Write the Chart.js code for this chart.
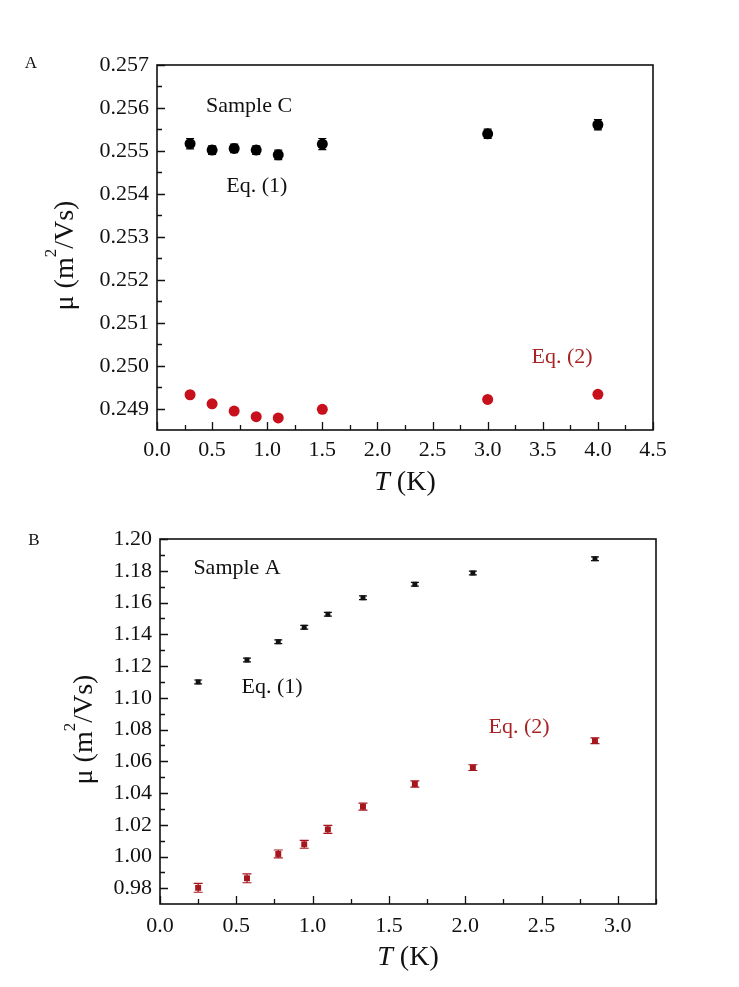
<!DOCTYPE html>
<html>
<head>
<meta charset="utf-8">
<script src="https://cdn.jsdelivr.net/npm/chart.js@4"></script>
<style>
  body { margin: 0; background: #fff; }
  .panel { position: absolute; left: 0; }
</style>
</head>
<body>
<div class="panel" style="top:0"><canvas id="chart-a" width="739" height="505"></canvas></div>
<div class="panel" style="top:505px"><canvas id="chart-b" width="739" height="482"></canvas></div>
<script>
// Panel A - Sample C
const tempA = [0.3, 0.5, 0.7, 0.9, 1.1, 1.5, 3.0, 4.0];
const muEq1A = [0.25517, 0.25502, 0.25506, 0.25502, 0.25491, 0.25516, 0.25540, 0.25561];
const errEq1A = [0.00012, 0.00010, 0.00010, 0.00010, 0.00011, 0.00013, 0.00011, 0.00012];
const muEq2A = [0.24933, 0.24912, 0.24895, 0.24882, 0.24879, 0.24899, 0.24922, 0.24934];
const errEq2A = [0.00004, 0.00004, 0.00004, 0.00004, 0.00004, 0.00004, 0.00004, 0.00004];
const xTicksA = [0, 0.5, 1.0, 1.5, 2.0, 2.5, 3.0, 3.5, 4.0, 4.5];
const yTicksA = [0.249, 0.250, 0.251, 0.252, 0.253, 0.254, 0.255, 0.256, 0.257];

// Panel B - Sample A
const tempB = [0.25, 0.57, 0.775, 0.945, 1.10, 1.33, 1.67, 2.05, 2.85];
const muEq1B = [1.1100, 1.1238, 1.1353, 1.1444, 1.1526, 1.1630, 1.1715, 1.1786, 1.1876];
const errEq1B = [0.0012, 0.0012, 0.0012, 0.0012, 0.0012, 0.0012, 0.0012, 0.0012, 0.0012];
const muEq2B = [0.9803, 0.9863, 1.0016, 1.0077, 1.0171, 1.0314, 1.0457, 1.0560, 1.0729];
const errEq2B = [0.0028, 0.0028, 0.0025, 0.0025, 0.0025, 0.0022, 0.0020, 0.0018, 0.0018];
const xTicksB = [0, 0.5, 1.0, 1.5, 2.0, 2.5, 3.0];
const yTicksB = [0.98, 1.00, 1.02, 1.04, 1.06, 1.08, 1.10, 1.12, 1.14, 1.16, 1.18, 1.20];

const SERIF = "'Liberation Serif', 'Times New Roman', serif";
const RED_A = '#c8101c';
const RED_B = '#a5161e';
const RED_TXT = '#a82424';

const pts = (xs, ys) => xs.map((x, i) => ({ x: x, y: ys[i] }));

// draws a row of text pieces, each {t, font, dy}
function drawRuns(ctx, runs, x, y, align) {
    let total = 0;
    runs.forEach(r => { ctx.font = r.font; total += ctx.measureText(r.t).width; });
    let cx = align === 'center' ? x - total / 2 : x;
    ctx.textAlign = 'left';
    ctx.textBaseline = 'middle';
    runs.forEach(r => {
        ctx.font = r.font;
        ctx.fillText(r.t, cx, y + (r.dy || 0));
        cx += ctx.measureText(r.t).width;
    });
}

const errorBars = {
    id: 'errorBars',
    beforeDatasetsDraw(chart) {
        const ctx = chart.ctx;
        const xs = chart.scales.x, ys = chart.scales.y;
        chart.data.datasets.forEach(ds => {
            if (!ds.errors) return;
            ctx.save();
            ctx.strokeStyle = ds.backgroundColor;
            ctx.lineWidth = 1.2;
            ds.data.forEach((p, i) => {
                const px = xs.getPixelForValue(p.x);
                const top = ys.getPixelForValue(p.y + ds.errors[i]);
                const bot = ys.getPixelForValue(p.y - ds.errors[i]);
                const w = ds.capWidth / 2;
                ctx.beginPath();
                ctx.moveTo(px, top); ctx.lineTo(px, bot);
                ctx.moveTo(px - w, top); ctx.lineTo(px + w, top);
                ctx.moveTo(px - w, bot); ctx.lineTo(px + w, bot);
                ctx.stroke();
            });
            ctx.restore();
        });
    }
};

const frame = {
    id: 'frame',
    afterDraw(chart, args, opts) {
        const ctx = chart.ctx;
        const a = chart.chartArea;
        const xs = chart.scales.x, ys = chart.scales.y;
        ctx.save();
        ctx.strokeStyle = '#111';
        ctx.lineWidth = 1.6;
        ctx.strokeRect(a.left, a.top, a.right - a.left, a.bottom - a.top);
        ctx.lineWidth = 1.3;
        ctx.beginPath();
        for (let v = xs.min; v <= xs.max + 1e-9; v += opts.xMinor) {
            const px = Math.round(xs.getPixelForValue(v)) + 0.5;
            const major = Math.abs(v / opts.xMajor - Math.round(v / opts.xMajor)) < 1e-6;
            ctx.moveTo(px, a.bottom);
            ctx.lineTo(px, a.bottom - (major ? 8 : 5));
        }
        const y0 = Math.ceil(ys.min / opts.yMinor - 1e-6) * opts.yMinor;
        for (let v = y0; v <= ys.max + 1e-9; v += opts.yMinor) {
            const py = Math.round(ys.getPixelForValue(v)) + 0.5;
            const major = Math.abs(v / opts.yMajor - Math.round(v / opts.yMajor)) < 1e-6;
            ctx.moveTo(a.left, py);
            ctx.lineTo(a.left + (major ? 8 : 5), py);
        }
        ctx.stroke();

        // annotations placed in data coordinates
        (opts.notes || []).forEach(n => {
            ctx.fillStyle = n.color;
            ctx.font = '22px ' + SERIF;
            ctx.textAlign = 'center';
            ctx.textBaseline = 'middle';
            ctx.fillText(n.text, xs.getPixelForValue(n.x), ys.getPixelForValue(n.y));
        });

        // axis titles
        ctx.fillStyle = '#111';
        drawRuns(ctx, [
            { t: 'T', font: 'italic 28px ' + SERIF },
            { t: ' (K)', font: '28px ' + SERIF }
        ], (a.left + a.right) / 2, a.bottom + opts.xTitleOffset, 'center');

        ctx.translate(opts.yTitleX, (a.top + a.bottom) / 2 + 8);
        ctx.rotate(-Math.PI / 2);
        drawRuns(ctx, [
            { t: '\u03bc (m', font: '28px ' + SERIF },
            { t: '2', font: '17px ' + SERIF, dy: -14 },
            { t: '/Vs)', font: '28px ' + SERIF }
        ], 0, 0, 'center');
        ctx.restore();

        // panel letter
        ctx.save();
        ctx.fillStyle = '#111';
        ctx.font = '17px ' + SERIF;
        ctx.textAlign = 'center';
        ctx.textBaseline = 'middle';
        ctx.fillText(opts.letter, opts.letterX, opts.letterY);
        ctx.restore();
    }
};

function makeChart(id, cfg) {
    return new Chart(document.getElementById(id).getContext('2d'), {
        type: 'scatter',
        data: { datasets: cfg.datasets },
        options: {
            responsive: false,
            animation: false,
            layout: { padding: cfg.padding },
            plugins: {
                legend: { display: false },
                tooltip: { enabled: false },
                frame: cfg.frame
            },
            scales: {
                x: {
                    type: 'linear',
                    min: cfg.xMin, max: cfg.xMax,
                    grid: { display: false, drawTicks: false },
                    border: { display: false },
                    afterBuildTicks: s => { s.ticks = cfg.xTicks.map(v => ({ value: v })); },
                    afterFit: s => { s.height = cfg.xHeight; },
                    ticks: {
                        padding: cfg.xPad,
                        color: '#111',
                        font: { family: SERIF, size: 22 },
                        callback: v => Number(v).toFixed(1)
                    }
                },
                y: {
                    type: 'linear',
                    min: cfg.yMin, max: cfg.yMax,
                    grid: { display: false, drawTicks: false },
                    border: { display: false },
                    afterBuildTicks: s => { s.ticks = cfg.yTicks.map(v => ({ value: v })); },
                    afterFit: s => { s.width = cfg.yWidth; },
                    ticks: {
                        padding: 8,
                        color: '#111',
                        font: { family: SERIF, size: 22 },
                        callback: v => Number(v).toFixed(cfg.yDec)
                    }
                }
            }
        },
        plugins: [errorBars, frame]
    });
}

document.addEventListener('DOMContentLoaded', () => {
    makeChart('chart-a', {
        padding: { top: 65, right: 86, left: 0, bottom: 0 },
        xMin: 0, xMax: 4.5, yMin: 0.24851, yMax: 0.257,
        xTicks: xTicksA, yTicks: yTicksA, yDec: 3,
        xHeight: 75, yWidth: 157, xPad: 7,
        datasets: [
            {
                label: 'Eq. (1)',
                data: pts(tempA, muEq1A),
                errors: errEq1A, capWidth: 8,
                backgroundColor: '#000', borderColor: '#000',
                pointRadius: 5.5, pointBorderWidth: 0
            },
            {
                label: 'Eq. (2)',
                data: pts(tempA, muEq2A),
                errors: errEq2A, capWidth: 6,
                backgroundColor: RED_A, borderColor: RED_A,
                pointRadius: 5.5, pointBorderWidth: 0
            }
        ],
        frame: {
            xMajor: 0.5, xMinor: 0.25, yMajor: 0.001, yMinor: 0.0005,
            xTitleOffset: 53, yTitleX: 66,
            letter: 'A', letterX: 31, letterY: 64,
            notes: [
                { text: 'Sample C', x: 0.835, y: 0.25605, color: '#111' },
                { text: 'Eq. (1)', x: 0.905, y: 0.25419, color: '#111' },
                { text: 'Eq. (2)', x: 3.675, y: 0.25021, color: RED_TXT }
            ]
        }
    });

    makeChart('chart-b', {
        padding: { top: 34, right: 83, left: 0, bottom: 0 },
        xMin: 0, xMax: 3.25, yMin: 0.9701, yMax: 1.20,
        xTicks: xTicksB, yTicks: yTicksB, yDec: 2,
        xHeight: 83, yWidth: 160, xPad: 9,
        datasets: [
            {
                label: 'Eq. (1)',
                data: pts(tempB, muEq1B),
                errors: errEq1B, capWidth: 8,
                backgroundColor: '#111', borderColor: '#111',
                pointStyle: 'rect', pointRadius: 3.5, pointBorderWidth: 0
            },
            {
                label: 'Eq. (2)',
                data: pts(tempB, muEq2B),
                errors: errEq2B, capWidth: 9,
                backgroundColor: RED_B, borderColor: RED_B,
                pointStyle: 'rect', pointRadius: 4.2, pointBorderWidth: 0
            }
        ],
        frame: {
            xMajor: 0.5, xMinor: 0.25, yMajor: 0.02, yMinor: 0.01,
            xTitleOffset: 54, yTitleX: 85,
            letter: 'B', letterX: 34, letterY: 36,
            notes: [
                { text: 'Sample A', x: 0.505, y: 1.1817, color: '#111' },
                { text: 'Eq. (1)', x: 0.734, y: 1.1068, color: '#111' },
                { text: 'Eq. (2)', x: 2.353, y: 1.0816, color: RED_TXT }
            ]
        }
    });
});
</script>
</body>
</html>
